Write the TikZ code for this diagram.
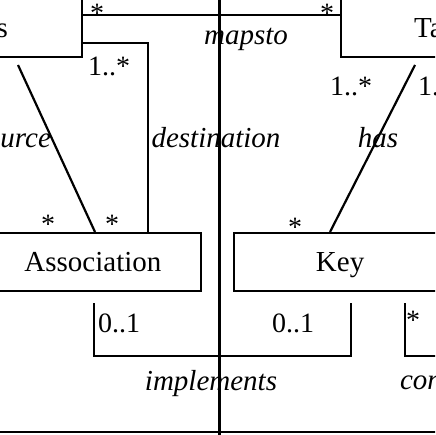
\documentclass[tikz,border=0pt]{standalone}
\usepackage{fontspec}
\setmainfont{Liberation Serif}
\usepackage{tikz}

\begin{document}
\begin{tikzpicture}[%
        x = 1pt, y = -1pt,
        line width = 2.2pt,
        every node/.style = {inner sep=0pt, font=\fontsize{29}{33}\selectfont},
        classbox/.style = {draw, minimum height=58pt, text height=19pt, text depth=0pt},
        role/.style = {anchor=base, font=\fontsize{29}{33}\selectfont\itshape},
        mult/.style = {anchor=base, font=\fontsize{28}{32}\selectfont}
    ]
      \useasboundingbox (0,0) rectangle (435,435);
      \clip (0,0) rectangle (435,435);
      % classes
      \node[classbox, minimum width=200pt, minimum height=120pt, anchor=south east] (cls) at (83,58) {};
      \node[classbox, minimum width=200pt, minimum height=120pt, anchor=south west] (tbl) at (340,58) {};
      \node[classbox, minimum width=216pt, anchor=north east] (assoc) at (202,232) {Association};
      \node[classbox, minimum width=212pt, anchor=north west] (key) at (233,232) {Key};
      \node[anchor=base east] (clsname) at (9,38) {s};
      \node[anchor=base west] (tblname) at (413,38) {Ta};
      % free ends
      \coordinate (srctop) at (18,65);
      \coordinate (hastop) at (415,65);
      \coordinate (implA) at (94,303);
      \coordinate (implB) at (351,303);
      \coordinate (conA) at (405,303);
      \coordinate (divtop) at (219.5,-5);
      \coordinate (divbot) at (219.5,440);
      \coordinate (baseL) at (-5,432);
      \coordinate (baseR) at (440,432);
      % associations
      \draw (cls.east |- 0,15) -- (tbl.west |- 0,15);
      \draw (cls.east |- 0,43) -| (assoc.north -| 148,0);
      \draw (srctop) -- (assoc.north -| 95,0);
      \draw (hastop) -- (key.north -| 330,0);
      \draw (implA) -- ++(0,53) -| (implB);
      \draw (conA) -- ++(0,53) -- ++(40,0);
      \draw (divtop) -- (divbot);
      \draw (baseL) -- (baseR);
      % roles
      \node[role] (mapsto) at (246,45) {mapsto};
      \node[role, anchor=base east] (source) at (52,148) {urce};
      \node[role] (destination) at (216,148) {destination};
      \node[role] (has) at (378,148) {has};
      \node[role] (implements) at (211,390) {implements};
      \node[role, anchor=base west] (con) at (399,389) {con};
      % multiplicities
      \node[mult] (m1) at (97,23) {*};
      \node[mult] (m2) at (327,23) {*};
      \node[mult] (m3) at (109,76) {1..*};
      \node[mult] (m4) at (351,96) {1..*};
      \node[mult, anchor=base west] (m5) at (417,96) {1..*};
      \node[mult] (m6) at (48,233) {*};
      \node[mult] (m7) at (112,233) {*};
      \node[mult] (m8) at (295,236) {*};
      \node[mult] (m9) at (119,332) {0..1};
      \node[mult] (m10) at (293,332) {0..1};
      \node[mult] (m11) at (413,329) {*};
    \end{tikzpicture}
\end{document}
